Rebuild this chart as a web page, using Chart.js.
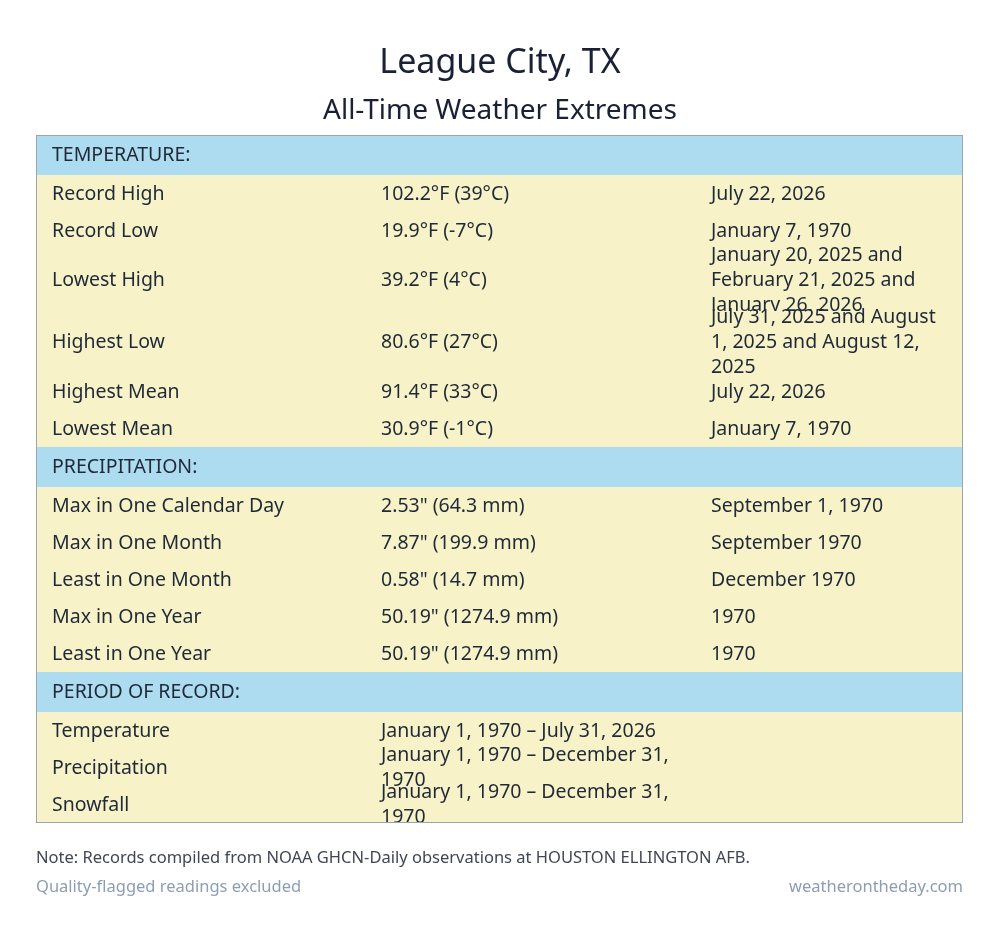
<!DOCTYPE html>
<html><head><meta charset="utf-8">
<script src="https://cdn.jsdelivr.net/npm/chart.js@4"></script>
<style>html,body{margin:0;padding:0;background:#fff}#wrap{width:1000px;height:948px}</style>
</head><body><div id="wrap"><canvas id="c"></canvas></div>
<script>
const title = "League City, TX";
const subtitle = "All-Time Weather Extremes";
const sections = ["TEMPERATURE:", "PRECIPITATION:", "PERIOD OF RECORD:"];
const tempLabels = ["Record High","Record Low","Lowest High","Highest Low","Highest Mean","Lowest Mean"];
const tempValues = ["102.2°F (39°C)","19.9°F (-7°C)","39.2°F (4°C)","80.6°F (27°C)","91.4°F (33°C)","30.9°F (-1°C)"];
const tempDates = ["July 22, 2026","January 7, 1970","January 20, 2025 and February 21, 2025 and January 26, 2026","July 31, 2025 and August 1, 2025 and August 12, 2025","July 22, 2026","January 7, 1970"];
const precLabels = ["Max in One Calendar Day","Max in One Month","Least in One Month","Max in One Year","Least in One Year"];
const precValues = ["2.53\" (64.3 mm)","7.87\" (199.9 mm)","0.58\" (14.7 mm)","50.19\" (1274.9 mm)","50.19\" (1274.9 mm)"];
const precDates = ["September 1, 1970","September 1970","December 1970","1970","1970"];
const periodLabels = ["Temperature","Precipitation","Snowfall"];
const periodValues = ["January 1, 1970 – July 31, 2026","January 1, 1970 – December 31, 1970","January 1, 1970 – December 31, 1970"];
const periodDates = ["","",""];
const note = "Note: Records compiled from NOAA GHCN-Daily observations at HOUSTON ELLINGTON AFB.";
const footLeft = "Quality-flagged readings excluded";
const footRight = "weatherontheday.com";

const FONT = '"Noto Sans", sans-serif';
function wrap(ctx, text, maxW){
  const words = text.split(' '); const lines=[]; let cur='';
  for(const w of words){const t=cur?cur+' '+w:w; if(ctx.measureText(t).width>maxW && cur){lines.push(cur);cur=w;} else cur=t;}
  if(cur) lines.push(cur); return lines;
}
const tablePlugin = {
  id:'table',
  afterDraw(chart){
    const ctx = chart.ctx; ctx.save();
    const L=36, R=963, T=135, B=823, cols=[52,381,711], colW=[313,300,236];
    ctx.font = '19.5px '+FONT; ctx.textBaseline='middle';
    const groups=[[tempLabels,tempValues,tempDates],[precLabels,precValues,precDates],[periodLabels,periodValues,periodDates]];
    let y=T;
    ctx.beginPath(); ctx.rect(L,T,R-L,B-T); ctx.clip();
    groups.forEach((g,gi)=>{
      ctx.fillStyle='#addcf0'; ctx.fillRect(L,y,R-L,40);
      ctx.fillStyle='#1f2937'; ctx.textAlign='left'; ctx.fillText(sections[gi],cols[0],y+20.5);
      y+=40;
      g[0].forEach((lab,i)=>{
        const cells=[lab,g[1][i],g[2][i]].map((t,c)=>wrap(ctx,t,colW[c]));
        const big = gi===0 && cells[2].length>2;
        const h = big?62:37;
        ctx.fillStyle='#f7f2c8'; ctx.fillRect(L,y,R-L,h);
        ctx.fillStyle='#1f2937';
        cells.forEach((lines,c)=>{
          const n=lines.length, cy=y+h/2+0.5;
          lines.forEach((ln,k)=>ctx.fillText(ln,cols[c],cy+(k-(n-1)/2)*25));
        });
        y+=h;
      });
    });
    ctx.restore(); ctx.save();
    ctx.strokeStyle='#9aa5b1'; ctx.lineWidth=1; ctx.strokeRect(L+0.5,T+0.5,R-L-1,B-T-1);
    ctx.font='16.5px '+FONT; ctx.textBaseline='middle'; ctx.textAlign='left';
    ctx.fillStyle='#3f4654'; ctx.fillText(note,36,858);
    ctx.fillStyle='#8e9db5'; ctx.fillText(footLeft,36,887);
    ctx.textAlign='right'; ctx.fillText(footRight,963,887);
    ctx.restore();
  }
};
new Chart(document.getElementById('c'),{
  type:'bar',
  data:{labels:[],datasets:[]},
  options:{responsive:true,maintainAspectRatio:false,animation:false,
    layout:{padding:{top:43}},
    scales:{x:{display:false},y:{display:false}},
    plugins:{legend:{display:false},tooltip:{enabled:false},
      title:{display:true,text:title,color:'#1a2035',font:{family:FONT,size:34,weight:'normal'},padding:{top:0,bottom:10}},
      subtitle:{display:true,text:subtitle,color:'#1a2035',font:{family:FONT,size:28,weight:'normal'},padding:{bottom:10}}}},
  plugins:[tablePlugin]
});
</script></body></html>
